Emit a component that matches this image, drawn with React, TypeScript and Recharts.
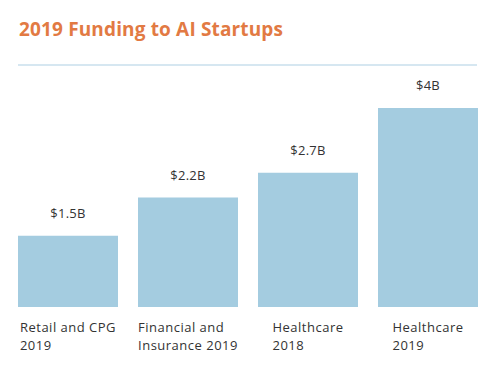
import { BarChart, Bar, XAxis, YAxis, LabelList } from 'recharts';

const categories = ['Retail and CPG\n2019', 'Financial and\nInsurance 2019', 'Healthcare\n2018', 'Healthcare\n2019'];
const funding = [1.43, 2.2, 2.7, 4];
const valueLabels = ['$1.5B', '$2.2B', '$2.7B', '$4B'];

const chartData = categories.map((name, i) => ({ name, funding: funding[i], label: valueLabels[i] }));

const FONT = '"Open Sans", sans-serif';
const TEXT = '#333333';
const SPACING = 0.5;

let ctx: CanvasRenderingContext2D | null = null;
function measure(s: string) {
  if (!ctx) ctx = document.createElement('canvas').getContext('2d');
  if (!ctx) return s.length * 7;
  ctx.font = `13px ${FONT}`;
  return ctx.measureText(s).width + s.length * SPACING;
}

// block of lines centered under the bar, left-aligned inside
function CategoryTick(props: any) {
  const { x, y, payload } = props;
  const lines = String(payload.value).split('\n');
  const w = Math.max(...lines.map(measure));
  return (
    <text x={x - w / 2} y={y} fill={TEXT} fontSize={13} fontFamily={FONT} letterSpacing={SPACING} textAnchor="start">
      {lines.map((l, i) => (
        <tspan key={i} x={x - w / 2} dy={i === 0 ? 17 : 18}>{l}</tspan>
      ))}
    </text>
  );
}

export default function App() {
  return (
    <div style={{ position: 'absolute', left: 0, top: 0, width: 494, height: 368, background: '#fff' }}>
      <div
        style={{
          position: 'absolute', left: 19, top: 19, fontFamily: FONT, fontWeight: 700,
          fontSize: 19, lineHeight: '20px', letterSpacing: 0.15, color: '#e27a43', whiteSpace: 'nowrap',
        }}
      >
        2019 Funding to AI Startups
      </div>
      <div style={{ position: 'absolute', left: 18, top: 64, width: 459, height: 2, background: '#d6e7f1' }} />
      <div style={{ position: 'absolute', left: 0, top: 0 }}>
        <BarChart width={494} height={368} data={chartData} margin={{ top: 108, right: 6, bottom: 31, left: 8 }} barCategoryGap={20}>
          <XAxis dataKey="name" axisLine={false} tickLine={false} interval={0} height={30} tick={<CategoryTick />} />
          <YAxis hide domain={[0, 4]} />
          <Bar dataKey="funding" fill="#a4cce0" barSize={100} isAnimationActive={false}>
            <LabelList dataKey="label" position="top" offset={18} fill={TEXT} fontSize={13} fontFamily={FONT} letterSpacing={0.3} />
          </Bar>
        </BarChart>
      </div>
    </div>
  );
}
